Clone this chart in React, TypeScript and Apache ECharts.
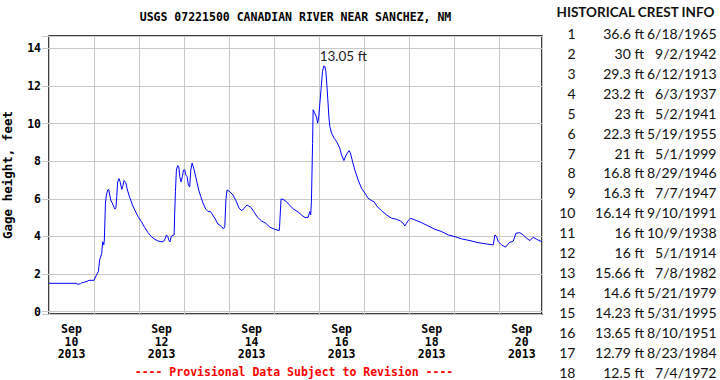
import React, { useEffect, useRef } from "react";
import * as echarts from "echarts";

// Hours since 2013-09-10 00:00 and gage height (feet)
const hours = [
  0, 14.9, 15.1, 16.7, 17.3, 19, 20.3, 21.3, 24, 25.3, 26.3, 27, 28.1, 28.6, 29.2, 29.5, 30.1, 30.6, 31.3, 31.8,
  32.4, 32.9, 33.6, 34.7, 35.2, 35.7, 36.1, 36.6, 37.3, 37.9, 38.8, 39.3, 40.0, 40.9, 41.8, 43.0, 44.5, 45.7, 47.5, 49.3,
  51.0, 52.8, 54.6, 56.4, 58.1, 60.3, 61.3, 62.0, 62.6, 63.3, 64.0, 64.5, 65.1, 65.6, 66.7, 67.0, 67.4, 67.9, 68.6, 69.2,
  69.7, 70.4, 71.1, 71.7, 72.4, 72.9, 73.6, 74.3, 75.0, 75.6, 76.3, 77.3, 78.6, 79.8, 80.9, 82.1, 83.6, 84.8, 86.1, 86.9,
  88.4, 90.1, 92.0, 93.0, 93.7, 94.3, 94.9, 96.4, 98.1, 99.9, 101.3, 102.8, 104, 105.6, 107.6, 109.2, 110.9, 113.3, 115.6, 117.7,
  120.4, 122.7, 122.9, 123.7, 124.8, 126.6, 128.4, 130.5, 132.8, 134.6, 136.4, 138.1, 139, 139.5, 139.9, 140.5, 140.8, 141.5, 142.6, 143.2,
  143.8, 144.4, 145.0, 145.8, 146.5, 147.0, 147.6, 148.3, 149.2, 149.7, 150.6, 152, 153.3, 155, 155.9, 157.2, 158.2, 159.0, 160, 160.7,
  161.8, 163, 164.8, 166.6, 168.4, 170.1, 172, 173.3, 174.9, 177.3, 180, 182.6, 185.3, 187.4, 188.8, 189.7, 190.6, 191.5, 192.7, 195,
  198.6, 202.1, 205.7, 209.3, 212.8, 216.4, 220, 224.4, 228.8, 233.3, 236.8, 237.7, 238.6, 239.5, 241.3, 243.4, 245.3, 247.5, 248.9, 251,
  252.8, 254.6, 256.4, 258.1, 259.9, 262.6,
];
const stage = [
  1.51, 1.51, 1.46, 1.48, 1.53, 1.57, 1.62, 1.67, 1.67, 1.95, 2.13, 2.75, 3.1, 3.72, 3.55, 3.81, 5.77, 6.2, 6.47, 6.5,
  6.2, 5.94, 5.8, 5.55, 5.45, 5.55, 6.12, 6.9, 7.07, 6.9, 6.5, 6.65, 6.97, 6.86, 6.47, 6.08, 5.67, 5.41, 5.05, 4.78,
  4.48, 4.2, 3.99, 3.85, 3.76, 3.71, 3.76, 3.9, 4.08, 3.99, 3.78, 3.71, 3.99, 4.03, 4.08, 5.24, 6.38, 7.53, 7.76, 7.7,
  7.18, 6.9, 7.18, 7.53, 7.53, 7.27, 7.18, 6.72, 6.63, 7.53, 7.9, 7.57, 7.0, 6.47, 6.12, 5.77, 5.45, 5.32, 5.32, 5.2,
  4.96, 4.66, 4.52, 4.4, 4.52, 5.94, 6.47, 6.38, 6.2, 5.85, 5.5, 5.37, 5.5, 5.67, 5.55, 5.32, 5.05, 4.82, 4.7, 4.49,
  4.38, 4.31, 4.52, 5.99, 5.97, 5.85, 5.64, 5.44, 5.3, 5.14, 5.01, 5.01, 5.32, 5.14, 5.85, 8.94, 10.73, 10.59, 10.34, 10.02,
  10.37, 11.08, 11.79, 12.77, 13.05, 13.05, 12.77, 11.79, 10.34, 9.84, 9.49, 9.22, 9.04, 8.69, 8.34, 8.03, 8.28, 8.43, 8.56, 8.43,
  7.98, 7.54, 7.0, 6.56, 6.3, 6.03, 5.9, 5.85, 5.59, 5.37, 5.14, 4.97, 4.91, 4.82, 4.7, 4.56, 4.7, 4.84, 4.97, 4.88,
  4.73, 4.56, 4.38, 4.26, 4.08, 3.99, 3.87, 3.78, 3.67, 3.6, 3.55, 4.08, 3.99, 3.72, 3.55, 3.43, 3.67, 3.76, 4.17, 4.2,
  4.08, 3.9, 3.78, 3.96, 3.85, 3.72,
];

const peakHour = 146.75;
const peakValue = 13.05;

const labelHours = [12, 60, 108, 156, 204, 252];
const labelDays = ["10", "12", "14", "16", "18", "20"];
const labelMonth = "Sep";
const labelYear = "2013";

const crestRank = [1, 2, 3, 4, 5, 6, 7, 8, 9, 10, 11, 12, 13, 14, 15, 16, 17, 18];
const crestFeet = [36.6, 30, 29.3, 23.2, 23, 22.3, 21, 16.8, 16.3, 16.14, 16, 16, 15.66, 14.6, 14.23, 13.65, 12.79, 12.5];
const crestDates = [
  "6/18/1965", "9/2/1942", "6/12/1913", "6/3/1937", "5/2/1941", "5/19/1955", "5/1/1999", "8/29/1946", "7/7/1947",
  "9/10/1991", "10/9/1938", "5/1/1914", "7/8/1982", "5/21/1979", "5/31/1995", "8/10/1951", "8/23/1984", "7/4/1972",
];

const MONO = "'DejaVu Sans Mono', 'Liberation Mono', monospace";
const SANS = "Lato, 'Open Sans', sans-serif";

export default function App() {
  const ref = useRef<HTMLDivElement>(null);
  useEffect(() => {
    if (!ref.current) return;
    const chart = echarts.init(ref.current, undefined, { renderer: "svg" });
    const data = hours.map((h, i) => [h, stage[i]]);

    const tableEls: any[] = [];
    tableEls.push({
      type: "text",
      x: 635.5,
      y: 12,
      style: {
        text: "HISTORICAL CREST INFO",
        font: `bold 13.5px ${SANS}`,
        fill: "#111",
        textAlign: "center",
        textVerticalAlign: "middle",
      },
    });
    crestRank.forEach((r, i) => {
      const y = 33.3 + i * 19.95;
      tableEls.push({
        type: "text",
        x: 575.5,
        y,
        style: { text: String(r), font: `14px ${SANS}`, fill: "#111", textAlign: "right", textVerticalAlign: "middle" },
      });
      tableEls.push({
        type: "text",
        x: 644,
        y,
        style: { text: `${crestFeet[i]} ft`, font: `14px ${SANS}`, fill: "#111", textAlign: "right", textVerticalAlign: "middle" },
      });
      tableEls.push({
        type: "text",
        x: 716.5,
        y,
        style: { text: crestDates[i], font: `14px ${SANS}`, fill: "#111", textAlign: "right", textVerticalAlign: "middle" },
      });
    });

    chart.setOption({
      animation: false,
      backgroundColor: "#fff",
      grid: {
        left: 49,
        right: 178,
        top: 36,
        bottom: 66,
        show: true,
        borderColor: "#000",
        borderWidth: 1.5,
        containLabel: false,
        outerBoundsMode: "none",
      },
      xAxis: [
        {
          type: "value",
          min: 0,
          max: 262.8,
          interval: 24,
          axisLine: { show: false },
          axisTick: { show: false },
          axisLabel: { show: false },
          splitLine: { show: true, lineStyle: { color: "#c8c8c8", width: 1 } },
        },
        {
          type: "value",
          position: "bottom",
          min: 0,
          max: 262.8,
          interval: 12,
          axisLine: { show: false },
          axisTick: { show: false },
          splitLine: { show: false },
          axisLabel: {
            show: true,
            margin: 9,
            color: "#000",
            fontFamily: MONO,
            fontWeight: "bold",
            fontSize: 11.5,
            lineHeight: 12.5,
            formatter: (v: number) => {
              const idx = labelHours.findIndex((h) => Math.abs(h - v) < 1e-6);
              return idx >= 0 ? `${labelMonth}\n${labelDays[idx]}\n${labelYear}` : "";
            },
          },
        },
      ],
      yAxis: {
        type: "value",
        min: -0.12,
        max: 14.65,
        splitNumber: 7,
        name: "Gage height, feet",
        nameLocation: "middle",
        nameGap: 35,
        nameTextStyle: { fontFamily: MONO, fontWeight: "bold", fontSize: 12.5, color: "#000" },
        axisLine: { show: false },
        axisTick: { show: true, length: 7, lineStyle: { color: "#c8c8c8" } },
        axisLabel: {
          margin: 8,
          color: "#000",
          fontFamily: MONO,
          fontWeight: "bold",
          fontSize: 11.5,
          formatter: (v: number) => {
            const r = Math.round(v);
            return Math.abs(v - r) < 1e-6 && r % 2 === 0 ? String(r) : "";
          },
        },
        splitLine: { show: true, lineStyle: { color: "#c8c8c8", width: 1 } },
      },
      series: [
        {
          type: "line",
          xAxisIndex: 0,
          data,
          showSymbol: false,
          symbol: "none",
          lineStyle: { color: "#0000ff", width: 1 },
          itemStyle: { color: "#0000ff" },
          markPoint: {
            symbol: "circle",
            symbolSize: 1,
            itemStyle: { color: "rgba(0,0,0,0)" },
            label: {
              show: true,
              position: "top",
              distance: 3,
              offset: [19, 0],
              formatter: `${peakValue} ft`,
              fontFamily: SANS,
              fontSize: 13.5,
              color: "#222",
            },
            data: [{ coord: [peakHour, peakValue], value: peakValue }],
          },
        },
      ],
      graphic: [
        {
          type: "text",
          x: 295.5,
          y: 17,
          style: {
            text: "USGS 07221500 CANADIAN RIVER NEAR SANCHEZ, NM",
            font: `bold 11.5px ${MONO}`,
            fill: "#000",
            textAlign: "center",
            textVerticalAlign: "middle",
          },
        },
        {
          type: "text",
          x: 294,
          y: 372,
          style: {
            text: "---- Provisional Data Subject to Revision ----",
            font: `bold 11.5px ${MONO}`,
            fill: "#ff0000",
            textAlign: "center",
            textVerticalAlign: "middle",
          },
        },
        ...tableEls,
      ],
    });
    return () => chart.dispose();
  }, []);
  return (
    <div
      ref={ref}
      style={{ position: "fixed", left: 0, top: 0, width: 720, height: 380, background: "#fff" }}
    />
  );
}
